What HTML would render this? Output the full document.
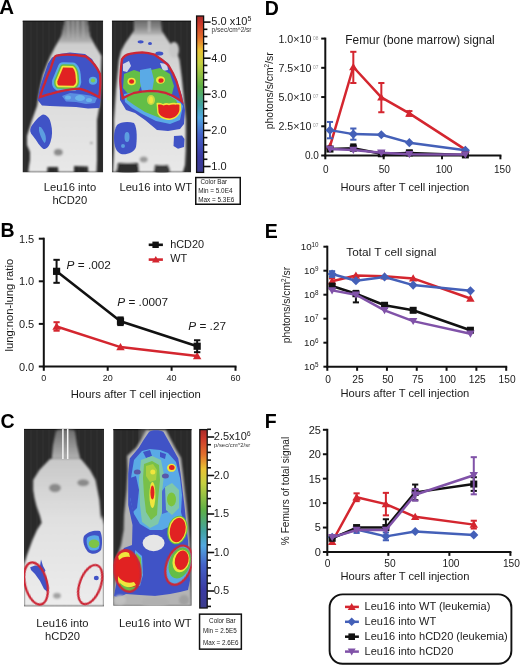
<!DOCTYPE html>
<html><head><meta charset="utf-8"><style>html,body{margin:0;padding:0;background:#fff;}svg{display:block;will-change:transform;}</style></head><body><svg width="520" height="666" viewBox="0 0 520 666" font-family='"Liberation Sans", sans-serif'>
<rect width="520" height="666" fill="#fff"/>
<defs>
<filter id="bl1" x="-20%" y="-20%" width="140%" height="140%"><feGaussianBlur stdDeviation="0.9"/></filter>
<filter id="bl2" x="-20%" y="-20%" width="140%" height="140%"><feGaussianBlur stdDeviation="2"/></filter>
<filter id="bl3" x="-30%" y="-30%" width="160%" height="160%"><feGaussianBlur stdDeviation="3.5"/></filter>
<filter id="sft" x="-5%" y="-5%" width="110%" height="110%"><feGaussianBlur stdDeviation="0.45"/></filter>
<linearGradient id="cbar" x1="0" y1="0" x2="0" y2="1">
<stop offset="0" stop-color="#a82a28"/>
<stop offset="0.05" stop-color="#cc3a2c"/>
<stop offset="0.14" stop-color="#e2702c"/>
<stop offset="0.22" stop-color="#eac234"/>
<stop offset="0.30" stop-color="#c6d040"/>
<stop offset="0.45" stop-color="#5eb046"/>
<stop offset="0.57" stop-color="#42a2a2"/>
<stop offset="0.65" stop-color="#52a8e0"/>
<stop offset="0.76" stop-color="#4462c8"/>
<stop offset="0.90" stop-color="#3a3aa2"/>
<stop offset="1" stop-color="#3c3c8c"/>
</linearGradient>
<linearGradient id="bgv" x1="0" y1="0" x2="1" y2="0">
<stop offset="0" stop-color="#2a2a2a"/><stop offset="0.5" stop-color="#2e2e2e"/><stop offset="1" stop-color="#282828"/>
</linearGradient>
<radialGradient id="body" cx="0.55" cy="0.6" r="0.6">
<stop offset="0" stop-color="#e4e4e4"/><stop offset="0.7" stop-color="#d6d6d6"/><stop offset="1" stop-color="#b8b8b8"/>
</radialGradient>
<clipPath id="cA1"><rect x="22.5" y="20.5" width="80.7" height="152"/></clipPath>
<clipPath id="cA2"><rect x="111.8" y="20.5" width="79.4" height="152"/></clipPath>
<clipPath id="cC1"><rect x="24" y="428.8" width="80" height="177.8"/></clipPath>
<clipPath id="cC2"><rect x="113.2" y="429" width="78.5" height="176.8"/></clipPath>
</defs>
<text x="-0.80" y="14.30" font-size="20.5" text-anchor="start" font-weight="bold" font-style="normal" fill="#000" >A</text>
<text x="0.50" y="237.40" font-size="19.5" text-anchor="start" font-weight="bold" font-style="normal" fill="#000" >B</text>
<text x="0.50" y="428.20" font-size="19.5" text-anchor="start" font-weight="bold" font-style="normal" fill="#000" >C</text>
<text x="264.80" y="14.80" font-size="19.5" text-anchor="start" font-weight="bold" font-style="normal" fill="#000" >D</text>
<text x="264.80" y="237.60" font-size="19.5" text-anchor="start" font-weight="bold" font-style="normal" fill="#000" >E</text>
<text x="264.80" y="428.30" font-size="19.5" text-anchor="start" font-weight="bold" font-style="normal" fill="#000" >F</text>
<defs>
<linearGradient id="headA1" x1="0" y1="0" x2="0" y2="1"><stop offset="0" stop-color="#686868"/><stop offset="0.5" stop-color="#888888"/><stop offset="1" stop-color="#b8b8b8"/></linearGradient>
<linearGradient id="bodyA" x1="0" y1="0" x2="0" y2="1"><stop offset="0" stop-color="#c4c4c4"/><stop offset="0.35" stop-color="#d8d8d8"/><stop offset="1" stop-color="#e8e8e8"/></linearGradient>
<linearGradient id="headC1" x1="0" y1="0" x2="0" y2="1"><stop offset="0" stop-color="#6c6c6c"/><stop offset="1" stop-color="#b2b2b2"/></linearGradient>
<linearGradient id="bodyC" x1="0" y1="0" x2="0" y2="1"><stop offset="0" stop-color="#c8c8c8"/><stop offset="0.4" stop-color="#e0e0e0"/><stop offset="1" stop-color="#ececec"/></linearGradient>
<pattern id="stripes" width="6" height="10" patternUnits="userSpaceOnUse"><rect width="6" height="10" fill="#2a2a2a"/><rect width="2" height="10" fill="#2e2e2e"/></pattern>
</defs>
<!-- ===== A1 ===== -->
<g clip-path="url(#cA1)">
<rect x="22.5" y="20.5" width="80.7" height="152" fill="url(#stripes)"/>
<rect x="22.5" y="20.5" width="80.7" height="1.3" fill="#141414"/>
<g filter="url(#bl1)">
<path d="M65,20 L87.5,20 L89.8,36 L96,47 L101.5,56 L101,70 L100.5,90 L99.5,106 L97,120 L97,150 L97,160 L96.5,172 L88.2,172 L88,166.5 L74,166 L74,172 L58.3,172 L58,167 L47.5,167 L47.2,172 L28.3,172 L29,166 L30,160 L30,152 L27,145 L27,136 L32,120 L37,106 L38,100 L40,88 L43,75 L47,64 L50.4,56 L55,47 L61.4,36 Z" fill="url(#bodyA)"/>
<path d="M65,20 L87.5,20 L89.8,36 L93,43 L58,43 L61.4,36 Z" fill="url(#headA1)"/>
<path d="M68,20 L68.5,38 M73,20 L73,40 M77.5,20 L77.5,40 M83,20 L83.5,38" stroke="#b4b4b4" stroke-width="1.1"/>
<ellipse cx="58.3" cy="152.3" rx="4.5" ry="3.5" fill="#8c8c8c"/>
<circle cx="91.4" cy="142.9" r="0.9" fill="#444"/>
</g>
<g filter="url(#sft)">
<path d="M52,57.5 L59,54 L70,52.5 L85,54 L92,59 L98.5,70 L100.8,84 L100.5,100 L99.5,108 L88,108.5 L76,107 L62,106.5 L50,106 L42,105.5 L37.6,100 L40,87 L44,75 L48,63.5 Z" fill="#4152c6"/>
<path d="M62,96 L70,93 L80,94 L90,95.5 L97,98 L95,103 L86,104 L76,102 L66,101.5 Z" fill="#5a8ee2"/>
<ellipse cx="80" cy="98" rx="5" ry="3" fill="#6ab4ea"/>
<ellipse cx="68" cy="97.5" rx="3" ry="2" fill="#6ab4ea"/>
<ellipse cx="89" cy="100" rx="3" ry="2" fill="#6ab4ea"/>
<path d="M63.1,67.4 L72.5,67.8 Q75,70 75.5,75 L76,82 Q75.5,85 73.5,85.8 L58.5,85.5 Q57,84.5 57.3,81.4 Z" fill="#5aaae6" stroke="#5aaae6" stroke-width="10.5" stroke-linejoin="round"/>
<path d="M63.1,67.4 L72.5,67.8 Q75,70 75.5,75 L76,82 Q75.5,85 73.5,85.8 L58.5,85.5 Q57,84.5 57.3,81.4 Z" fill="#64be46" stroke="#64be46" stroke-width="6.4" stroke-linejoin="round"/>
<path d="M63.1,67.4 L72.5,67.8 Q75,70 75.5,75 L76,82 Q75.5,85 73.5,85.8 L58.5,85.5 Q57,84.5 57.3,81.4 Z" fill="#f0e63c" stroke="#f0e63c" stroke-width="3.4" stroke-linejoin="round"/>
<path d="M63.1,67.4 L72.5,67.8 Q75,70 75.5,75 L76,82 Q75.5,85 73.5,85.8 L58.5,85.5 Q57,84.5 57.3,81.4 Z" fill="#e12323"/>
<ellipse cx="93" cy="80.8" rx="4.2" ry="4" fill="#5aaae6"/>
<ellipse cx="93" cy="80.5" rx="2.2" ry="2" fill="#7ec850"/>
<path d="M43,114.5 C47,115 50,118 51,124 C52.5,130 52.5,136 50.5,142 C49,147 46,149.5 43.5,149 C40,147 37,141 33,136 C30,133 29.5,130 31,127 C34,122 39,116 43,114.5 Z" fill="#4152c6"/>
<path d="M39,127 C41,126 43,130 45,134 C46.5,138 46,142 44.5,143 C42.5,141 40,135 39,131 Z" fill="#5c9ee0"/>
</g>
<path d="M56.5,55.6 C64,54.2 76,54.6 86,56.5 C92,61 97,67 100,74 C101,82 100,90 99.3,97.3 C92,93 85,89.5 78.8,88.6 C68,89.3 58,91.5 51.5,93.6 C46,95 43,96.2 40,97.1 C41.5,92 43,87 44.9,83 C47,77 48.5,73 49.9,70.7 C51.5,66 53,61 54.2,58 C54.8,56.5 55.5,55.8 56.5,55.6 Z" fill="none" stroke="#cc2636" stroke-width="2.3" filter="url(#sft)"/>
</g>
<!-- ===== A2 ===== -->
<g clip-path="url(#cA2)">
<rect x="111.8" y="20.5" width="79.4" height="152" fill="url(#stripes)"/>
<rect x="111.8" y="20.5" width="79.4" height="1.3" fill="#141414"/>
<g filter="url(#bl1)">
<path d="M134.4,20 L160.8,20 L161.5,31 L164.5,35 L170.2,43.4 L176.4,51 L179.5,60 L182,80 L184,100 L185.8,120 L185.8,150 L185,165 L183,172 L170,172 L168,165 L155,165 L154,172 L139,172 L138,163 L118,163 L116,172 L113,172 L114,150 L114,120 L116,90 L118.8,60 L121,51 L125,43.4 L131,35 L134,31 Z" fill="url(#bodyA)"/>
<path d="M134.4,20 L160.8,20 L161.5,31 L164.5,35 L131,35 L134,31 Z" fill="url(#headA1)"/>
<path d="M149.2,20 L149.2,32" stroke="#d0d0d0" stroke-width="1.4"/>
<ellipse cx="174" cy="50" rx="5" ry="8" fill="#c8c8c8"/>
<ellipse cx="143.7" cy="159.5" rx="4" ry="3" fill="#9a9a9a"/>
<ellipse cx="128" cy="168.5" rx="11" ry="5.5" fill="#2e2e2e"/>
<ellipse cx="162" cy="169.5" rx="8" ry="4.5" fill="#3a3a3a"/>
</g>
<g filter="url(#sft)">
<ellipse cx="140.6" cy="41.8" rx="3" ry="1.6" fill="#4152c6"/>
<ellipse cx="150" cy="43.4" rx="2" ry="1.5" fill="#4152c6"/>
<ellipse cx="159.3" cy="53.5" rx="4" ry="2" fill="#4152c6"/>
<path d="M121,60 L128,54 L142,52 L155,54 L168,63 L176,78 L182,96 L185,110 L184,124 L180,129 L168,131 L157,130 L145,120 L135,113 L126,110 L120,100 L119.5,80 Z" fill="#4152c6"/>
<path d="M123,64 L129,61 L131,66 L127,72 L123,71 Z" fill="#d0d6e8"/>
<path d="M160,63 L167,64 L168,70 L163,71 Z" fill="#d0d6e8"/>
<path d="M124,74 L134,70 L140,72 L142,84 L138,92 L128,94 L123,88 Z" fill="#64be46"/>
<path d="M151,70 L160,68 L170,74 L174,86 L172,94 L160,94 L152,90 L150,80 Z" fill="#64be46"/>
<path d="M140,70 L151,68 L154,80 L152,92 L142,92 L140,82 Z" fill="#5aaae6"/>
<path d="M124,94 L135,92 L150,90.5 L165,92.5 L178,99 L183,106 L180,120 L170,124 L156,121 L142,114 L132,108 L125,102 Z" fill="#5aaae6"/>
<path d="M126,95 L136,93 L150,91.5 L165,93.5 L176,100 L179,107 L176,117 L160,118 L145,112 L134,105 L127,100 Z" fill="#64be46"/>
<ellipse cx="151" cy="100" rx="4" ry="5" fill="#c8d846"/>
<ellipse cx="151" cy="100" rx="2" ry="3.5" fill="#f0e63c"/>
<ellipse cx="131.6" cy="81.5" rx="4.2" ry="3.8" fill="#f0e63c"/>
<ellipse cx="131.6" cy="81.5" rx="2.5" ry="2.3" fill="#e12323"/>
<ellipse cx="160.5" cy="80" rx="4.5" ry="3.8" fill="#f0e63c"/>
<ellipse cx="161" cy="80.5" rx="2.6" ry="2.3" fill="#e12323"/>
<path d="M156.5,103 C159,102.5 161,103 163,104 C165,103 167,102.5 169,103.5 C171,102.8 174,102.5 176,103.2 C178,102.8 180,102.8 181,103.5 L181.2,110 C180,115 176,119 170,120 C164,120 159,117.5 157.3,113 Z" fill="#f0e63c"/>
<path d="M158,104.8 C160,104.2 162,104.6 163.5,105.6 C165.5,104.6 167.5,104.3 169,105.2 C171,104.4 173.5,104.2 175.5,104.8 C177,104.4 178.5,104.5 179.4,105 L179.4,110 C178.5,114.5 175,117.8 170,118.4 C164.5,118.3 160,116 158.6,112.5 Z" fill="#e12323"/>
<path d="M117,125 C120,122 128,121 134,123 C137.5,128 137,140 136,147 C134,153 126,155 121,154 C116,152 114,146 114,138 C114,132 115,128 117,125 Z" fill="#4152c6"/>
<ellipse cx="127" cy="137" rx="2.5" ry="5" fill="#5c9ee0"/>
<ellipse cx="123" cy="146" rx="2" ry="2" fill="#5c9ee0"/>
<path d="M174,136 L182,135.4 L184.5,139 L184,147 L178,148.8 L173.5,146 Z" fill="#4152c6"/>
</g>
<path d="M121.9,59.3 C124,56 127,54.5 129.7,53.9 C134,52.8 138,52.3 142.2,52.3 C147,52.6 151,53.5 154.6,54.7 C160,58 165,62 168.6,65.6 C172,71 174.5,76 176.4,81.2 C178.5,88 180.5,95 181.9,101.4 C176,97 171,94.5 165.5,92.8 C160,91.3 155,90.8 150,90.8 C144,91 139,91.7 134.4,92.8 C130,94.5 126,96.5 122.7,98.3 C121,92 120.5,87 120.3,81.2 C120.5,73 121,66 121.9,59.3 Z" fill="none" stroke="#cc2636" stroke-width="2.3" filter="url(#sft)"/>
</g>
<!-- ===== C1 ===== -->
<g clip-path="url(#cC1)">
<rect x="24" y="428.8" width="80" height="177.8" fill="url(#stripes)"/>
<rect x="24" y="428.8" width="80" height="1.2" fill="#141414"/>
<g filter="url(#bl1)">
<path d="M50,459 L81,459 L90,470 L95.5,480 L99.4,500 L101,520 L102,515 L104,525 L104,606 L24,606 L24,565 L27,555 L32.5,540 L37,530 L41.7,522.7 L40,516 L36.5,506 L34.5,498 L33.2,490 L33.2,480 L39.4,470 Z" fill="url(#bodyC)"/>
<path d="M56,431 C58,428.5 72,428.5 75,431 L77,445 L80.2,458.8 L51.7,458.8 L53,445 Z" fill="url(#headC1)"/>
<ellipse cx="55" cy="488" rx="6" ry="4.2" fill="#8a8a8a"/>
<ellipse cx="83.2" cy="482.8" rx="6" ry="3.5" fill="#8a8a8a"/>
<ellipse cx="57" cy="595.8" rx="4" ry="3" fill="#a2a2a2"/>
</g>
<line x1="62.9" y1="428" x2="62.9" y2="459" stroke="#f6f6f6" stroke-width="1.5"/>
<line x1="67.7" y1="428" x2="67.7" y2="459" stroke="#f6f6f6" stroke-width="1.5"/>
<g filter="url(#sft)">
<path d="M84,536 C88,531 95,530 100,531 C102.5,535 102.5,545 101,550 C98,554 92,555 88,552 C84.5,548 82,541 84,536 Z" fill="#4152c6"/>
<path d="M87,538 C90,535 95,534.5 98.5,536 C100,540 100,546 98.5,549 C95,551 91,551 89,549 C87,546 86,541 87,538 Z" fill="#5aaae6"/>
<ellipse cx="94" cy="543.8" rx="5.3" ry="4.2" fill="#7ec446"/>
<path d="M30.2,567.3 L35,565.5 L40,566 L41,559.6 L43,566 L45.5,570.4 L44,573 L47,580 L48.6,588 L47.5,592 L44,589 L40,581 L35,574 L31,570 Z" fill="#4152c6"/>
<ellipse cx="96.3" cy="578" rx="2.5" ry="2.2" fill="#4152c6"/>
</g>
<ellipse cx="36" cy="583.5" rx="11" ry="21.5" transform="rotate(-14 36 583.5)" fill="none" stroke="#cc2636" stroke-width="2.3" filter="url(#sft)"/>
<ellipse cx="90.2" cy="584.6" rx="10.5" ry="20.5" transform="rotate(20 90.2 584.6)" fill="none" stroke="#cc2636" stroke-width="2.3" filter="url(#sft)"/>
</g>
<!-- ===== C2 ===== -->
<g clip-path="url(#cC2)">
<rect x="113.2" y="429" width="78.5" height="176.8" fill="url(#stripes)"/>
<rect x="113.2" y="429" width="78.5" height="1.2" fill="#141414"/>
<rect x="140" y="429" width="7" height="30" fill="#5a5a5a" filter="url(#bl2)"/>
<g filter="url(#bl1)">
<path d="M146,430 L166,430 L171,440 L175,447.8 L181,458 L183,474 L186.5,505 L188,520 L190,545 L190.5,580 L191.5,606 L113,606 L114,590 L116,560 L121,545 L123.6,530 L124,515 L126.5,490 L127.5,470 L127,456 L136,447.8 L141,440 Z" fill="#b4b4b4"/>
</g>
<g filter="url(#sft)">
<path d="M149,432 C151,429.5 161,429.5 163.5,432 L168,440 L172.3,447.8 L178.3,458.4 L180.6,473.6 L184.4,505 L186,520 L188,540 L189,560 L190,580 L188,590 L180,592 L170,594 L155,596 L140,595 L126,594 L118,598 L114,596 L116,585 L118,560 L124,548 L132,545 L132.5,525 L128.2,505 L128.2,473.6 L129.7,458.4 L138.8,447.8 L143.5,440 Z" fill="#4152c6"/>
<path d="M134,460 L142,451 L150,449 L160,450 L168,453 L176,462 L180,478 L182,495 L181,512 L184,525 L175,524 L162,530 L150,530 L140,524 L134,514 L130,498 L131,478 Z" fill="#5aaae6"/>
<path d="M130,478 L136,476 L139,490 L137,508 L133,512 L129.5,495 Z" fill="#4152c6"/>
<path d="M143,452 L150,450 L152,456 L146,458 Z" fill="#4152c6"/>
<path d="M160,452 L166,454 L165,459 L160,457 Z" fill="#4152c6"/>
<path d="M161,492 L166,486 L170,495 L168,512 L162,514 L160,502 Z" fill="#4a6ad0"/>
<path d="M141,460 L152,456 L161,460 L164,475 L162,492 L162,512 L158,524 L150,528 L142,522 L140,505 L139,480 Z" fill="#80c8a8"/>
<path d="M144,464 L152,461 L159,465 L160,480 L158,500 L157,515 L151,520 L146,512 L144,495 L143,478 Z" fill="#78c048"/>
<path d="M146,466 L153,464 L157,470 L156,480 L150,482 L146,476 Z" fill="#a8d040"/>
<ellipse cx="152.8" cy="472" rx="2.5" ry="2.5" fill="#f0e63c"/>
<ellipse cx="152.4" cy="495" rx="3" ry="13" fill="#f0e63c"/>
<ellipse cx="152.4" cy="492.5" rx="2" ry="7" fill="#e12323"/>
<path d="M165,487 L172,483 L179,490 L179,508 L172,515 L166,510 Z" fill="#80c8a8"/>
<ellipse cx="171.5" cy="499.4" rx="4.5" ry="7" fill="#7cc43c"/>
<ellipse cx="171.5" cy="467.8" rx="4.5" ry="4" fill="#f0e63c"/>
<ellipse cx="171.8" cy="467.6" rx="2.8" ry="2.5" fill="#e12323"/>
<ellipse cx="137.3" cy="472" rx="3.5" ry="2.5" fill="#5a58a8"/>
<ellipse cx="165.4" cy="475.9" rx="3.5" ry="2.5" fill="#5a58a8"/>
<ellipse cx="177.5" cy="530" rx="10" ry="14.5" transform="rotate(12 177.5 530)" fill="#64be46"/>
<ellipse cx="177.5" cy="530" rx="9" ry="13.5" transform="rotate(12 177.5 530)" fill="#f0e63c"/>
<ellipse cx="177.7" cy="530" rx="7.8" ry="12.3" transform="rotate(12 177.7 530)" fill="#e12323"/>
<ellipse cx="153.6" cy="543" rx="11" ry="8.3" fill="#e6e6e6"/>
<path d="M135,550 L142,556 L143,575 L140,586 L134,585 Z" fill="#5aaae6"/>
<path d="M136,553 L141,558 L141.5,574 L138,582 Z" fill="#7cc43c"/>
<ellipse cx="127.4" cy="570.9" rx="13" ry="20.9" transform="rotate(-8 127.4 570.9)" fill="#e12323"/>
<path d="M118,556 C120,552 126,551 129,553 L130,557 C126,556 122,557 119,560 Z" fill="#f0e63c"/>
<path d="M118,576 C121,581 127,584 134,582 L136,585 C130,589 122,588 118,583 Z" fill="#f0e63c"/>
<path d="M120,583 C124,587 130,589 136,586 L135,590 C129,592 123,591 120,588 Z" fill="#64be46"/>
<ellipse cx="178.8" cy="565.2" rx="12.3" ry="20.3" transform="rotate(20 178.8 565.2)" fill="#5aaae6"/>
<ellipse cx="179.8" cy="563" rx="10.5" ry="16" transform="rotate(20 179.8 563)" fill="#64be46"/>
<ellipse cx="181" cy="561" rx="8.3" ry="11.5" transform="rotate(15 181 561)" fill="#f0e63c"/>
<ellipse cx="181.7" cy="560.2" rx="6.8" ry="9.8" transform="rotate(12 181.7 560.2)" fill="#e12323"/>
</g>
<g filter="url(#bl1)">
<ellipse cx="120" cy="600" rx="6" ry="5" fill="#c0c0c0"/>
<ellipse cx="155" cy="602" rx="14" ry="5" fill="#b0b0b0"/>
<ellipse cx="184" cy="600" rx="5" ry="5" fill="#a0a0a0"/>
</g>
<ellipse cx="127.4" cy="570.9" rx="13" ry="20.9" transform="rotate(-8 127.4 570.9)" fill="none" stroke="#cc2636" stroke-width="2.3" filter="url(#sft)"/>
<ellipse cx="178.8" cy="565.2" rx="12.3" ry="20.3" transform="rotate(20 178.8 565.2)" fill="none" stroke="#cc2636" stroke-width="2.3" filter="url(#sft)"/>
</g>

<rect x="196.6" y="16" width="7.0" height="156.4" fill="url(#cbar)" stroke="#111" stroke-width="1.3"/>
<line x1="203.60" y1="22.10" x2="210.60" y2="22.10" stroke="#111" stroke-width="1.6" />
<text x="211.30" y="25.40" font-size="11" text-anchor="start" font-weight="normal" font-style="normal" fill="#1a1a1a" >5.0 x10<tspan dy="-4" font-size="7">5</tspan></text>
<line x1="203.60" y1="58.20" x2="210.60" y2="58.20" stroke="#111" stroke-width="1.6" />
<text x="211.30" y="61.50" font-size="11" text-anchor="start" font-weight="normal" font-style="normal" fill="#1a1a1a" >4.0</text>
<line x1="203.60" y1="94.30" x2="210.60" y2="94.30" stroke="#111" stroke-width="1.6" />
<text x="211.30" y="97.60" font-size="11" text-anchor="start" font-weight="normal" font-style="normal" fill="#1a1a1a" >3.0</text>
<line x1="203.60" y1="130.40" x2="210.60" y2="130.40" stroke="#111" stroke-width="1.6" />
<text x="211.30" y="133.70" font-size="11" text-anchor="start" font-weight="normal" font-style="normal" fill="#1a1a1a" >2.0</text>
<line x1="203.60" y1="166.50" x2="210.60" y2="166.50" stroke="#111" stroke-width="1.6" />
<text x="211.30" y="169.80" font-size="11" text-anchor="start" font-weight="normal" font-style="normal" fill="#1a1a1a" >1.0</text>
<line x1="203.60" y1="29.32" x2="207.40" y2="29.32" stroke="#111" stroke-width="1.6" />
<line x1="203.60" y1="36.54" x2="207.40" y2="36.54" stroke="#111" stroke-width="1.6" />
<line x1="203.60" y1="43.76" x2="207.40" y2="43.76" stroke="#111" stroke-width="1.6" />
<line x1="203.60" y1="50.98" x2="207.40" y2="50.98" stroke="#111" stroke-width="1.6" />
<line x1="203.60" y1="65.42" x2="207.40" y2="65.42" stroke="#111" stroke-width="1.6" />
<line x1="203.60" y1="72.64" x2="207.40" y2="72.64" stroke="#111" stroke-width="1.6" />
<line x1="203.60" y1="79.86" x2="207.40" y2="79.86" stroke="#111" stroke-width="1.6" />
<line x1="203.60" y1="87.08" x2="207.40" y2="87.08" stroke="#111" stroke-width="1.6" />
<line x1="203.60" y1="101.52" x2="207.40" y2="101.52" stroke="#111" stroke-width="1.6" />
<line x1="203.60" y1="108.74" x2="207.40" y2="108.74" stroke="#111" stroke-width="1.6" />
<line x1="203.60" y1="115.96" x2="207.40" y2="115.96" stroke="#111" stroke-width="1.6" />
<line x1="203.60" y1="123.18" x2="207.40" y2="123.18" stroke="#111" stroke-width="1.6" />
<line x1="203.60" y1="137.62" x2="207.40" y2="137.62" stroke="#111" stroke-width="1.6" />
<line x1="203.60" y1="144.84" x2="207.40" y2="144.84" stroke="#111" stroke-width="1.6" />
<line x1="203.60" y1="152.06" x2="207.40" y2="152.06" stroke="#111" stroke-width="1.6" />
<line x1="203.60" y1="159.28" x2="207.40" y2="159.28" stroke="#111" stroke-width="1.6" />
<text x="211.60" y="32.20" font-size="6.5" text-anchor="start" font-weight="normal" font-style="normal" fill="#333" >p/sec/cm^2/sr</text>
<rect x="195.75" y="177.55" width="44.5" height="26.7" fill="#fff" stroke="#111" stroke-width="1.5"/>
<text x="200.50" y="184.20" font-size="6.3" text-anchor="start" font-weight="normal" font-style="normal" fill="#222" >Color Bar</text>
<text x="198.20" y="192.60" font-size="6.4" text-anchor="start" font-weight="normal" font-style="normal" fill="#222" >Min = 5.0E4</text>
<text x="198.20" y="201.50" font-size="6.4" text-anchor="start" font-weight="normal" font-style="normal" fill="#222" >Max = 5.3E6</text>
<text x="70.00" y="190.80" font-size="11.2" text-anchor="middle" font-weight="normal" font-style="normal" fill="#1a1a1a" >Leu16 into</text>
<text x="69.80" y="203.60" font-size="11.2" text-anchor="middle" font-weight="normal" font-style="normal" fill="#1a1a1a" >hCD20</text>
<text x="155.80" y="190.80" font-size="11.2" text-anchor="middle" font-weight="normal" font-style="normal" fill="#1a1a1a" >Leu16 into WT</text>
<rect x="199.8" y="429.6" width="7.4" height="178.39999999999998" fill="url(#cbar)" stroke="#111" stroke-width="1.3"/>
<line x1="207.20" y1="437.00" x2="214.20" y2="437.00" stroke="#111" stroke-width="1.6" />
<text x="213.80" y="440.30" font-size="11" text-anchor="start" font-weight="normal" font-style="normal" fill="#1a1a1a" >2.5x10<tspan dy="-4" font-size="7">6</tspan></text>
<line x1="207.20" y1="475.50" x2="214.20" y2="475.50" stroke="#111" stroke-width="1.6" />
<text x="213.80" y="478.80" font-size="11" text-anchor="start" font-weight="normal" font-style="normal" fill="#1a1a1a" >2.0</text>
<line x1="207.20" y1="514.00" x2="214.20" y2="514.00" stroke="#111" stroke-width="1.6" />
<text x="213.80" y="517.30" font-size="11" text-anchor="start" font-weight="normal" font-style="normal" fill="#1a1a1a" >1.5</text>
<line x1="207.20" y1="552.50" x2="214.20" y2="552.50" stroke="#111" stroke-width="1.6" />
<text x="213.80" y="555.80" font-size="11" text-anchor="start" font-weight="normal" font-style="normal" fill="#1a1a1a" >1.0</text>
<line x1="207.20" y1="591.00" x2="214.20" y2="591.00" stroke="#111" stroke-width="1.6" />
<text x="213.80" y="594.30" font-size="11" text-anchor="start" font-weight="normal" font-style="normal" fill="#1a1a1a" >0.5</text>
<line x1="207.20" y1="429.30" x2="211.00" y2="429.30" stroke="#111" stroke-width="1.6" />
<line x1="207.20" y1="444.70" x2="211.00" y2="444.70" stroke="#111" stroke-width="1.6" />
<line x1="207.20" y1="452.40" x2="211.00" y2="452.40" stroke="#111" stroke-width="1.6" />
<line x1="207.20" y1="460.10" x2="211.00" y2="460.10" stroke="#111" stroke-width="1.6" />
<line x1="207.20" y1="467.80" x2="211.00" y2="467.80" stroke="#111" stroke-width="1.6" />
<line x1="207.20" y1="483.20" x2="211.00" y2="483.20" stroke="#111" stroke-width="1.6" />
<line x1="207.20" y1="490.90" x2="211.00" y2="490.90" stroke="#111" stroke-width="1.6" />
<line x1="207.20" y1="498.60" x2="211.00" y2="498.60" stroke="#111" stroke-width="1.6" />
<line x1="207.20" y1="506.30" x2="211.00" y2="506.30" stroke="#111" stroke-width="1.6" />
<line x1="207.20" y1="521.70" x2="211.00" y2="521.70" stroke="#111" stroke-width="1.6" />
<line x1="207.20" y1="529.40" x2="211.00" y2="529.40" stroke="#111" stroke-width="1.6" />
<line x1="207.20" y1="537.10" x2="211.00" y2="537.10" stroke="#111" stroke-width="1.6" />
<line x1="207.20" y1="544.80" x2="211.00" y2="544.80" stroke="#111" stroke-width="1.6" />
<line x1="207.20" y1="560.20" x2="211.00" y2="560.20" stroke="#111" stroke-width="1.6" />
<line x1="207.20" y1="567.90" x2="211.00" y2="567.90" stroke="#111" stroke-width="1.6" />
<line x1="207.20" y1="575.60" x2="211.00" y2="575.60" stroke="#111" stroke-width="1.6" />
<line x1="207.20" y1="583.30" x2="211.00" y2="583.30" stroke="#111" stroke-width="1.6" />
<line x1="207.20" y1="598.70" x2="211.00" y2="598.70" stroke="#111" stroke-width="1.6" />
<line x1="207.20" y1="606.40" x2="211.00" y2="606.40" stroke="#111" stroke-width="1.6" />
<text x="214.00" y="446.80" font-size="5.9" text-anchor="start" font-weight="normal" font-style="normal" fill="#333" >p/sec/cm^2/sr</text>
<rect x="199.55" y="614.15" width="41.8" height="35" fill="#fff" stroke="#111" stroke-width="1.5"/>
<text x="209.10" y="622.50" font-size="6.3" text-anchor="start" font-weight="normal" font-style="normal" fill="#222" >Color Bar</text>
<text x="202.90" y="633.10" font-size="6.3" text-anchor="start" font-weight="normal" font-style="normal" fill="#222" >Min = 2.5E5</text>
<text x="202.90" y="644.60" font-size="6.3" text-anchor="start" font-weight="normal" font-style="normal" fill="#222" >Max = 2.6E6</text>
<text x="62.40" y="626.80" font-size="11.2" text-anchor="middle" font-weight="normal" font-style="normal" fill="#1a1a1a" >Leu16 into</text>
<text x="62.50" y="639.60" font-size="11.2" text-anchor="middle" font-weight="normal" font-style="normal" fill="#1a1a1a" >hCD20</text>
<text x="155.30" y="626.80" font-size="11.2" text-anchor="middle" font-weight="normal" font-style="normal" fill="#1a1a1a" >Leu16 into WT</text>
<line x1="43.80" y1="237.70" x2="43.80" y2="367.50" stroke="#111" stroke-width="2" />
<line x1="42.80" y1="366.50" x2="236.50" y2="366.50" stroke="#111" stroke-width="2" />
<line x1="38.80" y1="366.50" x2="43.80" y2="366.50" stroke="#111" stroke-width="2" />
<text x="34.20" y="370.50" font-size="11" text-anchor="end" font-weight="normal" font-style="normal" fill="#1a1a1a" >0.0</text>
<line x1="38.80" y1="323.90" x2="43.80" y2="323.90" stroke="#111" stroke-width="2" />
<text x="34.20" y="327.90" font-size="11" text-anchor="end" font-weight="normal" font-style="normal" fill="#1a1a1a" >0.5</text>
<line x1="38.80" y1="281.30" x2="43.80" y2="281.30" stroke="#111" stroke-width="2" />
<text x="34.20" y="285.30" font-size="11" text-anchor="end" font-weight="normal" font-style="normal" fill="#1a1a1a" >1.0</text>
<line x1="38.80" y1="238.70" x2="43.80" y2="238.70" stroke="#111" stroke-width="2" />
<text x="34.20" y="242.70" font-size="11" text-anchor="end" font-weight="normal" font-style="normal" fill="#1a1a1a" >1.5</text>
<line x1="43.80" y1="366.50" x2="43.80" y2="370.80" stroke="#111" stroke-width="2" />
<text x="43.80" y="381.20" font-size="9" text-anchor="middle" font-weight="normal" font-style="normal" fill="#1a1a1a" >0</text>
<line x1="107.70" y1="366.50" x2="107.70" y2="370.80" stroke="#111" stroke-width="2" />
<text x="107.70" y="381.20" font-size="9" text-anchor="middle" font-weight="normal" font-style="normal" fill="#1a1a1a" >20</text>
<line x1="171.60" y1="366.50" x2="171.60" y2="370.80" stroke="#111" stroke-width="2" />
<text x="171.60" y="381.20" font-size="9" text-anchor="middle" font-weight="normal" font-style="normal" fill="#1a1a1a" >40</text>
<line x1="235.50" y1="366.50" x2="235.50" y2="370.80" stroke="#111" stroke-width="2" />
<text x="235.50" y="381.20" font-size="9" text-anchor="middle" font-weight="normal" font-style="normal" fill="#1a1a1a" >60</text>
<text x="135.80" y="397.50" font-size="11.3" text-anchor="middle" font-weight="normal" font-style="normal" fill="#1a1a1a" >Hours after T cell injection</text>
<text x="12.60" y="305.20" font-size="11.2" text-anchor="middle" font-weight="normal" font-style="normal" fill="#1a1a1a" transform="rotate(-90 12.6 305.2)">lung:non-lung ratio</text>
<polyline points="56.58,326.46 120.48,347.07 197.16,356.11" fill="none" stroke="#d4262f" stroke-width="2.5" stroke-linejoin="round"/>
<line x1="56.58" y1="322.20" x2="56.58" y2="330.72" stroke="#d4262f" stroke-width="2.0" />
<line x1="53.48" y1="322.20" x2="59.68" y2="322.20" stroke="#d4262f" stroke-width="2.0" />
<line x1="53.48" y1="330.72" x2="59.68" y2="330.72" stroke="#d4262f" stroke-width="2.0" />
<polygon points="56.58,322.43 60.81,329.68 52.35,329.68" fill="#d4262f"/>
<polygon points="120.48,343.05 124.71,350.29 116.25,350.29" fill="#d4262f"/>
<polygon points="197.16,352.08 201.39,359.33 192.93,359.33" fill="#d4262f"/>
<polyline points="56.58,271.33 120.48,321.26 197.16,346.22" fill="none" stroke="#111" stroke-width="2.6" stroke-linejoin="round"/>
<line x1="56.58" y1="259.83" x2="56.58" y2="282.83" stroke="#111" stroke-width="2.0" />
<line x1="53.38" y1="259.83" x2="59.78" y2="259.83" stroke="#111" stroke-width="2.0" />
<line x1="53.38" y1="282.83" x2="59.78" y2="282.83" stroke="#111" stroke-width="2.0" />
<rect x="52.98" y="267.73" width="7.20" height="7.20" fill="#111"/>
<line x1="120.48" y1="317.42" x2="120.48" y2="325.09" stroke="#111" stroke-width="2.0" />
<line x1="117.28" y1="317.42" x2="123.68" y2="317.42" stroke="#111" stroke-width="2.0" />
<line x1="117.28" y1="325.09" x2="123.68" y2="325.09" stroke="#111" stroke-width="2.0" />
<rect x="116.88" y="317.66" width="7.20" height="7.20" fill="#111"/>
<line x1="197.16" y1="340.26" x2="197.16" y2="352.19" stroke="#111" stroke-width="2.0" />
<line x1="193.96" y1="340.26" x2="200.36" y2="340.26" stroke="#111" stroke-width="2.0" />
<line x1="193.96" y1="352.19" x2="200.36" y2="352.19" stroke="#111" stroke-width="2.0" />
<rect x="193.56" y="342.62" width="7.20" height="7.20" fill="#111"/>
<text x="66.60" y="268.50" font-size="11.8" text-anchor="start" font-weight="normal" font-style="normal" fill="#1a1a1a" ><tspan font-style="italic">P</tspan> = .002</text>
<text x="117.30" y="305.90" font-size="11.8" text-anchor="start" font-weight="normal" font-style="normal" fill="#1a1a1a" ><tspan font-style="italic">P</tspan> = .0007</text>
<text x="188.30" y="330.20" font-size="11.8" text-anchor="start" font-weight="normal" font-style="normal" fill="#1a1a1a" ><tspan font-style="italic">P</tspan> = .27</text>
<line x1="148.70" y1="244.80" x2="162.90" y2="244.80" stroke="#111" stroke-width="2.6" />
<rect x="152.40" y="241.60" width="6.40" height="6.40" fill="#111"/>
<text x="170.20" y="247.90" font-size="10.9" text-anchor="start" font-weight="normal" font-style="normal" fill="#1a1a1a" >hCD20</text>
<line x1="148.70" y1="259.60" x2="162.90" y2="259.60" stroke="#d4262f" stroke-width="2.6" />
<polygon points="155.80,255.92 159.66,262.54 151.94,262.54" fill="#d4262f"/>
<text x="170.20" y="262.40" font-size="10.9" text-anchor="start" font-weight="normal" font-style="normal" fill="#1a1a1a" >WT</text>
<line x1="325.30" y1="37.60" x2="325.30" y2="156.50" stroke="#111" stroke-width="2" />
<line x1="324.30" y1="155.50" x2="501.40" y2="155.50" stroke="#111" stroke-width="2" />
<line x1="321.20" y1="155.50" x2="325.30" y2="155.50" stroke="#111" stroke-width="2" />
<text x="318.80" y="159.30" font-size="10" text-anchor="end" font-weight="normal" font-style="normal" fill="#1a1a1a" >0.0</text>
<line x1="321.20" y1="126.28" x2="325.30" y2="126.28" stroke="#111" stroke-width="2" />
<text x="278.40" y="130.38" font-size="10.7" text-anchor="start" font-weight="normal" font-style="normal" fill="#1a1a1a" >2.5×10<tspan dy="-3" font-size="4.8" fill="#999" dx="1.6">07</tspan></text>
<line x1="321.20" y1="97.05" x2="325.30" y2="97.05" stroke="#111" stroke-width="2" />
<text x="278.40" y="101.15" font-size="10.7" text-anchor="start" font-weight="normal" font-style="normal" fill="#1a1a1a" >5.0×10<tspan dy="-3" font-size="4.8" fill="#999" dx="1.6">07</tspan></text>
<line x1="321.20" y1="67.83" x2="325.30" y2="67.83" stroke="#111" stroke-width="2" />
<text x="278.40" y="71.92" font-size="10.7" text-anchor="start" font-weight="normal" font-style="normal" fill="#1a1a1a" >7.5×10<tspan dy="-3" font-size="4.8" fill="#999" dx="1.6">07</tspan></text>
<line x1="321.20" y1="38.60" x2="325.30" y2="38.60" stroke="#111" stroke-width="2" />
<text x="278.40" y="42.70" font-size="10.7" text-anchor="start" font-weight="normal" font-style="normal" fill="#1a1a1a" >1.0×10<tspan dy="-3" font-size="4.8" fill="#999" dx="1.6">08</tspan></text>
<line x1="325.30" y1="155.50" x2="325.30" y2="159.30" stroke="#111" stroke-width="2" />
<text x="325.80" y="172.90" font-size="10" text-anchor="middle" font-weight="normal" font-style="normal" fill="#1a1a1a" >0</text>
<line x1="383.67" y1="155.50" x2="383.67" y2="159.30" stroke="#111" stroke-width="2" />
<text x="384.37" y="172.90" font-size="10" text-anchor="middle" font-weight="normal" font-style="normal" fill="#1a1a1a" >50</text>
<line x1="442.03" y1="155.50" x2="442.03" y2="159.30" stroke="#111" stroke-width="2" />
<text x="444.03" y="172.90" font-size="10" text-anchor="middle" font-weight="normal" font-style="normal" fill="#1a1a1a" >100</text>
<line x1="500.40" y1="155.50" x2="500.40" y2="159.30" stroke="#111" stroke-width="2" />
<text x="502.40" y="172.90" font-size="10" text-anchor="middle" font-weight="normal" font-style="normal" fill="#1a1a1a" >150</text>
<text x="404.90" y="191.10" font-size="11.2" text-anchor="middle" font-weight="normal" font-style="normal" fill="#1a1a1a" >Hours after T cell injection</text>
<text x="272.80" y="90.70" font-size="10.4" text-anchor="middle" font-weight="normal" font-style="normal" fill="#1a1a1a" transform="rotate(-90 272.8 90.7)">photons/s/cm<tspan dy="-3.5" font-size="6.5">2</tspan><tspan dy="3.5">/sr</tspan></text>
<text x="345.30" y="43.60" font-size="11.9" text-anchor="start" font-weight="normal" font-style="normal" fill="#1a1a1a" >Femur (bone marrow) signal</text>
<polyline points="329.97,146.38 353.32,67.01 381.33,97.40 409.35,113.42 465.38,149.66" fill="none" stroke="#d4262f" stroke-width="2.5" stroke-linejoin="round"/>
<polygon points="329.97,142.36 334.20,149.60 325.74,149.60" fill="#d4262f"/>
<line x1="353.32" y1="51.81" x2="353.32" y2="83.02" stroke="#d4262f" stroke-width="2.0" />
<line x1="350.22" y1="51.81" x2="356.42" y2="51.81" stroke="#d4262f" stroke-width="2.0" />
<line x1="350.22" y1="83.02" x2="356.42" y2="83.02" stroke="#d4262f" stroke-width="2.0" />
<polygon points="353.32,62.98 357.54,70.23 349.09,70.23" fill="#d4262f"/>
<line x1="381.33" y1="83.02" x2="381.33" y2="112.25" stroke="#d4262f" stroke-width="2.0" />
<line x1="378.23" y1="83.02" x2="384.43" y2="83.02" stroke="#d4262f" stroke-width="2.0" />
<line x1="378.23" y1="112.25" x2="384.43" y2="112.25" stroke="#d4262f" stroke-width="2.0" />
<polygon points="381.33,93.38 385.56,100.62 377.11,100.62" fill="#d4262f"/>
<line x1="409.35" y1="111.08" x2="409.35" y2="115.75" stroke="#d4262f" stroke-width="2.0" />
<line x1="406.25" y1="111.08" x2="412.45" y2="111.08" stroke="#d4262f" stroke-width="2.0" />
<line x1="406.25" y1="115.75" x2="412.45" y2="115.75" stroke="#d4262f" stroke-width="2.0" />
<polygon points="409.35,109.39 413.57,116.64 405.12,116.64" fill="#d4262f"/>
<polygon points="465.38,145.63 469.61,152.88 461.15,152.88" fill="#d4262f"/>
<polyline points="329.97,130.13 353.32,134.11 381.33,134.69 409.35,142.64 465.38,150.24" fill="none" stroke="#4460b8" stroke-width="2.5" stroke-linejoin="round"/>
<line x1="329.97" y1="121.95" x2="329.97" y2="138.32" stroke="#4460b8" stroke-width="2.0" />
<line x1="326.87" y1="121.95" x2="333.07" y2="121.95" stroke="#4460b8" stroke-width="2.0" />
<line x1="326.87" y1="138.32" x2="333.07" y2="138.32" stroke="#4460b8" stroke-width="2.0" />
<polygon points="329.97,125.58 334.52,130.13 329.97,134.68 325.42,130.13" fill="#4460b8"/>
<line x1="353.32" y1="128.50" x2="353.32" y2="139.72" stroke="#4460b8" stroke-width="2.0" />
<line x1="350.22" y1="128.50" x2="356.42" y2="128.50" stroke="#4460b8" stroke-width="2.0" />
<line x1="350.22" y1="139.72" x2="356.42" y2="139.72" stroke="#4460b8" stroke-width="2.0" />
<polygon points="353.32,129.56 357.87,134.11 353.32,138.66 348.77,134.11" fill="#4460b8"/>
<polygon points="381.33,130.14 385.88,134.69 381.33,139.24 376.78,134.69" fill="#4460b8"/>
<polygon points="409.35,138.09 413.90,142.64 409.35,147.19 404.80,142.64" fill="#4460b8"/>
<polygon points="465.38,145.69 469.93,150.24 465.38,154.79 460.83,150.24" fill="#4460b8"/>
<polyline points="329.97,149.07 353.32,148.25 381.33,153.75 409.35,152.93 465.38,154.92" fill="none" stroke="#111" stroke-width="2.5" stroke-linejoin="round"/>
<rect x="326.47" y="145.57" width="7.00" height="7.00" fill="#111"/>
<line x1="353.32" y1="144.39" x2="353.32" y2="148.25" stroke="#111" stroke-width="2.0" />
<line x1="350.22" y1="144.39" x2="356.42" y2="144.39" stroke="#111" stroke-width="2.0" />
<rect x="349.82" y="144.75" width="7.00" height="7.00" fill="#111"/>
<rect x="377.83" y="150.25" width="7.00" height="7.00" fill="#111"/>
<line x1="409.35" y1="150.59" x2="409.35" y2="152.93" stroke="#111" stroke-width="2.0" />
<line x1="406.25" y1="150.59" x2="412.45" y2="150.59" stroke="#111" stroke-width="2.0" />
<rect x="405.85" y="149.43" width="7.00" height="7.00" fill="#111"/>
<rect x="461.88" y="151.42" width="7.00" height="7.00" fill="#111"/>
<polyline points="329.97,149.07 353.32,149.89 381.33,152.69 409.35,154.33 465.38,154.56" fill="none" stroke="#8052a8" stroke-width="2.5" stroke-linejoin="round"/>
<polygon points="329.97,153.10 334.20,145.85 325.74,145.85" fill="#8052a8"/>
<polygon points="353.32,153.91 357.54,146.67 349.09,146.67" fill="#8052a8"/>
<polygon points="381.33,156.72 385.56,149.47 377.11,149.47" fill="#8052a8"/>
<polygon points="409.35,158.36 413.57,151.11 405.12,151.11" fill="#8052a8"/>
<polygon points="465.38,158.59 469.61,151.34 461.15,151.34" fill="#8052a8"/>
<line x1="327.30" y1="245.70" x2="327.30" y2="367.70" stroke="#111" stroke-width="2" />
<line x1="326.30" y1="366.70" x2="507.20" y2="366.70" stroke="#111" stroke-width="2" />
<line x1="323.40" y1="366.70" x2="327.30" y2="366.70" stroke="#111" stroke-width="2" />
<text x="314.90" y="370.30" font-size="9.8" text-anchor="end" font-weight="normal" font-style="normal" fill="#1a1a1a" >10</text>
<text x="314.90" y="367.10" font-size="6.3" text-anchor="start" font-weight="normal" font-style="normal" fill="#1a1a1a" >5</text>
<line x1="323.40" y1="342.70" x2="327.30" y2="342.70" stroke="#111" stroke-width="2" />
<text x="314.90" y="346.30" font-size="9.8" text-anchor="end" font-weight="normal" font-style="normal" fill="#1a1a1a" >10</text>
<text x="314.90" y="343.10" font-size="6.3" text-anchor="start" font-weight="normal" font-style="normal" fill="#1a1a1a" >6</text>
<line x1="323.40" y1="318.70" x2="327.30" y2="318.70" stroke="#111" stroke-width="2" />
<text x="314.90" y="322.30" font-size="9.8" text-anchor="end" font-weight="normal" font-style="normal" fill="#1a1a1a" >10</text>
<text x="314.90" y="319.10" font-size="6.3" text-anchor="start" font-weight="normal" font-style="normal" fill="#1a1a1a" >7</text>
<line x1="323.40" y1="294.70" x2="327.30" y2="294.70" stroke="#111" stroke-width="2" />
<text x="314.90" y="298.30" font-size="9.8" text-anchor="end" font-weight="normal" font-style="normal" fill="#1a1a1a" >10</text>
<text x="314.90" y="295.10" font-size="6.3" text-anchor="start" font-weight="normal" font-style="normal" fill="#1a1a1a" >8</text>
<line x1="323.40" y1="270.70" x2="327.30" y2="270.70" stroke="#111" stroke-width="2" />
<text x="314.90" y="274.30" font-size="9.8" text-anchor="end" font-weight="normal" font-style="normal" fill="#1a1a1a" >10</text>
<text x="314.90" y="271.10" font-size="6.3" text-anchor="start" font-weight="normal" font-style="normal" fill="#1a1a1a" >9</text>
<line x1="323.40" y1="246.70" x2="327.30" y2="246.70" stroke="#111" stroke-width="2" />
<text x="311.70" y="250.30" font-size="9.8" text-anchor="end" font-weight="normal" font-style="normal" fill="#1a1a1a" >10</text>
<text x="311.60" y="247.10" font-size="6.3" text-anchor="start" font-weight="normal" font-style="normal" fill="#1a1a1a" >10</text>
<line x1="327.30" y1="366.70" x2="327.30" y2="370.80" stroke="#111" stroke-width="2" />
<text x="328.20" y="382.80" font-size="10.2" text-anchor="middle" font-weight="normal" font-style="normal" fill="#1a1a1a" >0</text>
<line x1="357.12" y1="366.70" x2="357.12" y2="370.80" stroke="#111" stroke-width="2" />
<text x="358.02" y="382.80" font-size="10.2" text-anchor="middle" font-weight="normal" font-style="normal" fill="#1a1a1a" >25</text>
<line x1="386.93" y1="366.70" x2="386.93" y2="370.80" stroke="#111" stroke-width="2" />
<text x="387.83" y="382.80" font-size="10.2" text-anchor="middle" font-weight="normal" font-style="normal" fill="#1a1a1a" >50</text>
<line x1="416.75" y1="366.70" x2="416.75" y2="370.80" stroke="#111" stroke-width="2" />
<text x="417.65" y="382.80" font-size="10.2" text-anchor="middle" font-weight="normal" font-style="normal" fill="#1a1a1a" >75</text>
<line x1="446.57" y1="366.70" x2="446.57" y2="370.80" stroke="#111" stroke-width="2" />
<text x="447.47" y="382.80" font-size="10.2" text-anchor="middle" font-weight="normal" font-style="normal" fill="#1a1a1a" >100</text>
<line x1="476.38" y1="366.70" x2="476.38" y2="370.80" stroke="#111" stroke-width="2" />
<text x="477.28" y="382.80" font-size="10.2" text-anchor="middle" font-weight="normal" font-style="normal" fill="#1a1a1a" >125</text>
<line x1="506.20" y1="366.70" x2="506.20" y2="370.80" stroke="#111" stroke-width="2" />
<text x="507.10" y="382.80" font-size="10.2" text-anchor="middle" font-weight="normal" font-style="normal" fill="#1a1a1a" >150</text>
<text x="404.90" y="396.90" font-size="11.2" text-anchor="middle" font-weight="normal" font-style="normal" fill="#1a1a1a" >Hours after T cell injection</text>
<text x="289.50" y="305.00" font-size="10.3" text-anchor="middle" font-weight="normal" font-style="normal" fill="#1a1a1a" transform="rotate(-90 289.5 305)">photons/s/cm<tspan dy="-3.5" font-size="6.5">2</tspan><tspan dy="3.5">/sr</tspan></text>
<text x="346.30" y="255.50" font-size="11.8" text-anchor="start" font-weight="normal" font-style="normal" fill="#1a1a1a" >Total T cell signal</text>
<polyline points="332.07,281.26 355.92,275.50 384.55,276.22 413.17,278.38 470.42,298.54" fill="none" stroke="#d4262f" stroke-width="2.5" stroke-linejoin="round"/>
<line x1="332.07" y1="278.38" x2="332.07" y2="284.14" stroke="#d4262f" stroke-width="2.0" />
<line x1="328.97" y1="278.38" x2="335.17" y2="278.38" stroke="#d4262f" stroke-width="2.0" />
<line x1="328.97" y1="284.14" x2="335.17" y2="284.14" stroke="#d4262f" stroke-width="2.0" />
<polygon points="332.07,277.24 336.30,284.48 327.84,284.48" fill="#d4262f"/>
<polygon points="355.92,271.48 360.15,278.72 351.70,278.72" fill="#d4262f"/>
<polygon points="384.55,272.20 388.77,279.44 380.32,279.44" fill="#d4262f"/>
<polygon points="413.17,274.36 417.40,281.60 408.95,281.60" fill="#d4262f"/>
<polygon points="470.42,294.51 474.65,301.76 466.19,301.76" fill="#d4262f"/>
<polyline points="332.07,274.06 355.92,280.78 384.55,276.94 413.17,285.10 470.42,290.86" fill="none" stroke="#4460b8" stroke-width="2.5" stroke-linejoin="round"/>
<line x1="332.07" y1="271.18" x2="332.07" y2="276.94" stroke="#4460b8" stroke-width="2.0" />
<line x1="328.97" y1="271.18" x2="335.17" y2="271.18" stroke="#4460b8" stroke-width="2.0" />
<line x1="328.97" y1="276.94" x2="335.17" y2="276.94" stroke="#4460b8" stroke-width="2.0" />
<polygon points="332.07,269.51 336.62,274.06 332.07,278.61 327.52,274.06" fill="#4460b8"/>
<polygon points="355.92,276.23 360.47,280.78 355.92,285.33 351.37,280.78" fill="#4460b8"/>
<polygon points="384.55,272.39 389.10,276.94 384.55,281.49 380.00,276.94" fill="#4460b8"/>
<polygon points="413.17,280.55 417.72,285.10 413.17,289.65 408.62,285.10" fill="#4460b8"/>
<polygon points="470.42,286.31 474.97,290.86 470.42,295.41 465.87,290.86" fill="#4460b8"/>
<polyline points="332.07,286.06 355.92,293.74 384.55,305.26 413.17,310.30 470.42,330.22" fill="none" stroke="#111" stroke-width="2.5" stroke-linejoin="round"/>
<rect x="328.57" y="282.56" width="7.00" height="7.00" fill="#111"/>
<line x1="355.92" y1="290.86" x2="355.92" y2="302.38" stroke="#111" stroke-width="2.0" />
<line x1="352.82" y1="290.86" x2="359.02" y2="290.86" stroke="#111" stroke-width="2.0" />
<line x1="352.82" y1="302.38" x2="359.02" y2="302.38" stroke="#111" stroke-width="2.0" />
<rect x="352.42" y="290.24" width="7.00" height="7.00" fill="#111"/>
<rect x="381.05" y="301.76" width="7.00" height="7.00" fill="#111"/>
<rect x="409.67" y="306.80" width="7.00" height="7.00" fill="#111"/>
<rect x="466.92" y="326.72" width="7.00" height="7.00" fill="#111"/>
<polyline points="332.07,290.38 355.92,294.70 384.55,310.30 413.17,321.10 470.42,333.82" fill="none" stroke="#8052a8" stroke-width="2.5" stroke-linejoin="round"/>
<polygon points="332.07,294.40 336.30,287.16 327.84,287.16" fill="#8052a8"/>
<polygon points="355.92,298.72 360.15,291.48 351.70,291.48" fill="#8052a8"/>
<polygon points="384.55,314.32 388.77,307.08 380.32,307.08" fill="#8052a8"/>
<polygon points="413.17,325.12 417.40,317.88 408.95,317.88" fill="#8052a8"/>
<polygon points="470.42,337.84 474.65,330.60 466.19,330.60" fill="#8052a8"/>
<line x1="327.30" y1="428.80" x2="327.30" y2="553.00" stroke="#111" stroke-width="2" />
<line x1="326.30" y1="552.00" x2="511.40" y2="552.00" stroke="#111" stroke-width="2" />
<line x1="322.90" y1="552.00" x2="327.30" y2="552.00" stroke="#111" stroke-width="2" />
<text x="320.90" y="555.90" font-size="11" text-anchor="end" font-weight="normal" font-style="normal" fill="#1a1a1a" >0</text>
<line x1="322.90" y1="527.56" x2="327.30" y2="527.56" stroke="#111" stroke-width="2" />
<text x="320.90" y="531.46" font-size="11" text-anchor="end" font-weight="normal" font-style="normal" fill="#1a1a1a" >5</text>
<line x1="322.90" y1="503.12" x2="327.30" y2="503.12" stroke="#111" stroke-width="2" />
<text x="320.90" y="507.02" font-size="11" text-anchor="end" font-weight="normal" font-style="normal" fill="#1a1a1a" >10</text>
<line x1="322.90" y1="478.68" x2="327.30" y2="478.68" stroke="#111" stroke-width="2" />
<text x="320.90" y="482.58" font-size="11" text-anchor="end" font-weight="normal" font-style="normal" fill="#1a1a1a" >15</text>
<line x1="322.90" y1="454.24" x2="327.30" y2="454.24" stroke="#111" stroke-width="2" />
<text x="320.90" y="458.14" font-size="11" text-anchor="end" font-weight="normal" font-style="normal" fill="#1a1a1a" >20</text>
<line x1="322.90" y1="429.80" x2="327.30" y2="429.80" stroke="#111" stroke-width="2" />
<text x="320.90" y="433.70" font-size="11" text-anchor="end" font-weight="normal" font-style="normal" fill="#1a1a1a" >25</text>
<line x1="327.30" y1="552.00" x2="327.30" y2="555.90" stroke="#111" stroke-width="2" />
<text x="327.60" y="567.30" font-size="10.2" text-anchor="middle" font-weight="normal" font-style="normal" fill="#1a1a1a" >0</text>
<line x1="388.33" y1="552.00" x2="388.33" y2="555.90" stroke="#111" stroke-width="2" />
<text x="389.93" y="567.30" font-size="10.2" text-anchor="middle" font-weight="normal" font-style="normal" fill="#1a1a1a" >50</text>
<line x1="449.37" y1="552.00" x2="449.37" y2="555.90" stroke="#111" stroke-width="2" />
<text x="450.97" y="567.30" font-size="10.2" text-anchor="middle" font-weight="normal" font-style="normal" fill="#1a1a1a" >100</text>
<line x1="510.40" y1="552.00" x2="510.40" y2="555.90" stroke="#111" stroke-width="2" />
<text x="511.40" y="567.30" font-size="10.2" text-anchor="middle" font-weight="normal" font-style="normal" fill="#1a1a1a" >150</text>
<text x="405.00" y="580.40" font-size="11.2" text-anchor="middle" font-weight="normal" font-style="normal" fill="#1a1a1a" >Hours after T cell injection</text>
<text x="288.60" y="491.00" font-size="10.1" text-anchor="middle" font-weight="normal" font-style="normal" fill="#1a1a1a" transform="rotate(-90 288.6 491)">% Femurs of total signal</text>
<polyline points="332.18,541.74 356.60,497.25 385.89,504.10 415.19,516.81 473.78,524.63" fill="none" stroke="#d4262f" stroke-width="2.5" stroke-linejoin="round"/>
<polygon points="332.18,537.71 336.41,544.96 327.96,544.96" fill="#d4262f"/>
<line x1="356.60" y1="493.34" x2="356.60" y2="501.16" stroke="#d4262f" stroke-width="2.0" />
<line x1="353.50" y1="493.34" x2="359.70" y2="493.34" stroke="#d4262f" stroke-width="2.0" />
<line x1="353.50" y1="501.16" x2="359.70" y2="501.16" stroke="#d4262f" stroke-width="2.0" />
<polygon points="356.60,493.23 360.82,500.47 352.37,500.47" fill="#d4262f"/>
<line x1="385.89" y1="492.86" x2="385.89" y2="515.34" stroke="#d4262f" stroke-width="2.0" />
<line x1="382.79" y1="492.86" x2="388.99" y2="492.86" stroke="#d4262f" stroke-width="2.0" />
<line x1="382.79" y1="515.34" x2="388.99" y2="515.34" stroke="#d4262f" stroke-width="2.0" />
<polygon points="385.89,500.07 390.12,507.32 381.67,507.32" fill="#d4262f"/>
<polygon points="415.19,512.78 419.41,520.03 410.96,520.03" fill="#d4262f"/>
<line x1="473.78" y1="520.72" x2="473.78" y2="528.54" stroke="#d4262f" stroke-width="2.0" />
<line x1="470.68" y1="520.72" x2="476.88" y2="520.72" stroke="#d4262f" stroke-width="2.0" />
<line x1="470.68" y1="528.54" x2="476.88" y2="528.54" stroke="#d4262f" stroke-width="2.0" />
<polygon points="473.78,520.60 478.01,527.85 469.55,527.85" fill="#d4262f"/>
<polyline points="332.18,537.34 356.60,529.52 385.89,536.36 415.19,531.47 473.78,534.89" fill="none" stroke="#4460b8" stroke-width="2.5" stroke-linejoin="round"/>
<polygon points="332.18,532.79 336.73,537.34 332.18,541.89 327.63,537.34" fill="#4460b8"/>
<line x1="356.60" y1="526.09" x2="356.60" y2="532.94" stroke="#4460b8" stroke-width="2.0" />
<line x1="353.50" y1="526.09" x2="359.70" y2="526.09" stroke="#4460b8" stroke-width="2.0" />
<line x1="353.50" y1="532.94" x2="359.70" y2="532.94" stroke="#4460b8" stroke-width="2.0" />
<polygon points="356.60,524.97 361.15,529.52 356.60,534.07 352.05,529.52" fill="#4460b8"/>
<line x1="385.89" y1="532.45" x2="385.89" y2="540.27" stroke="#4460b8" stroke-width="2.0" />
<line x1="382.79" y1="532.45" x2="388.99" y2="532.45" stroke="#4460b8" stroke-width="2.0" />
<line x1="382.79" y1="540.27" x2="388.99" y2="540.27" stroke="#4460b8" stroke-width="2.0" />
<polygon points="385.89,531.81 390.44,536.36 385.89,540.91 381.34,536.36" fill="#4460b8"/>
<polygon points="415.19,526.92 419.74,531.47 415.19,536.02 410.64,531.47" fill="#4460b8"/>
<polygon points="473.78,530.34 478.33,534.89 473.78,539.44 469.23,534.89" fill="#4460b8"/>
<polyline points="332.18,538.31 356.60,527.56 385.89,527.56 415.19,492.37 473.78,484.06" fill="none" stroke="#111" stroke-width="2.5" stroke-linejoin="round"/>
<rect x="328.68" y="534.81" width="7.00" height="7.00" fill="#111"/>
<rect x="353.10" y="524.06" width="7.00" height="7.00" fill="#111"/>
<line x1="385.89" y1="519.25" x2="385.89" y2="527.56" stroke="#111" stroke-width="2.0" />
<line x1="382.79" y1="519.25" x2="388.99" y2="519.25" stroke="#111" stroke-width="2.0" />
<rect x="382.39" y="524.06" width="7.00" height="7.00" fill="#111"/>
<line x1="415.19" y1="484.55" x2="415.19" y2="500.19" stroke="#111" stroke-width="2.0" />
<line x1="412.09" y1="484.55" x2="418.29" y2="484.55" stroke="#111" stroke-width="2.0" />
<line x1="412.09" y1="500.19" x2="418.29" y2="500.19" stroke="#111" stroke-width="2.0" />
<rect x="411.69" y="488.87" width="7.00" height="7.00" fill="#111"/>
<line x1="473.78" y1="477.21" x2="473.78" y2="490.90" stroke="#111" stroke-width="2.0" />
<line x1="470.68" y1="477.21" x2="476.88" y2="477.21" stroke="#111" stroke-width="2.0" />
<line x1="470.68" y1="490.90" x2="476.88" y2="490.90" stroke="#111" stroke-width="2.0" />
<rect x="470.28" y="480.56" width="7.00" height="7.00" fill="#111"/>
<polyline points="332.18,537.34 356.60,530.00 385.89,530.00 415.19,494.81 473.78,475.26" fill="none" stroke="#8052a8" stroke-width="2.5" stroke-linejoin="round"/>
<polygon points="332.18,541.36 336.41,534.12 327.96,534.12" fill="#8052a8"/>
<polygon points="356.60,534.03 360.82,526.78 352.37,526.78" fill="#8052a8"/>
<polygon points="385.89,534.03 390.12,526.78 381.67,526.78" fill="#8052a8"/>
<line x1="415.19" y1="488.94" x2="415.19" y2="500.68" stroke="#8052a8" stroke-width="2.0" />
<line x1="412.09" y1="488.94" x2="418.29" y2="488.94" stroke="#8052a8" stroke-width="2.0" />
<line x1="412.09" y1="500.68" x2="418.29" y2="500.68" stroke="#8052a8" stroke-width="2.0" />
<polygon points="415.19,498.84 419.41,491.59 410.96,491.59" fill="#8052a8"/>
<line x1="473.78" y1="457.17" x2="473.78" y2="494.32" stroke="#8052a8" stroke-width="2.0" />
<line x1="470.68" y1="457.17" x2="476.88" y2="457.17" stroke="#8052a8" stroke-width="2.0" />
<line x1="470.68" y1="494.32" x2="476.88" y2="494.32" stroke="#8052a8" stroke-width="2.0" />
<polygon points="473.78,479.28 478.01,472.04 469.55,472.04" fill="#8052a8"/>
<rect x="329.6" y="594.4" width="181.8" height="69.4" rx="13" ry="13" fill="#fff" stroke="#111" stroke-width="1.9"/>
<line x1="345.00" y1="606.90" x2="358.90" y2="606.90" stroke="#d4262f" stroke-width="2.5" />
<polygon points="351.70,603.11 355.68,609.94 347.72,609.94" fill="#d4262f"/>
<text x="364.60" y="609.80" font-size="11" text-anchor="start" font-weight="normal" font-style="normal" fill="#1a1a1a" >Leu16 into WT (leukemia)</text>
<line x1="345.00" y1="621.80" x2="358.90" y2="621.80" stroke="#4460b8" stroke-width="2.5" />
<polygon points="351.70,617.51 355.99,621.80 351.70,626.09 347.41,621.80" fill="#4460b8"/>
<text x="364.60" y="624.95" font-size="11" text-anchor="start" font-weight="normal" font-style="normal" fill="#1a1a1a" >Leu16 into WT</text>
<line x1="345.00" y1="636.70" x2="358.90" y2="636.70" stroke="#111" stroke-width="2.5" />
<rect x="348.40" y="633.40" width="6.60" height="6.60" fill="#111"/>
<text x="364.60" y="640.10" font-size="11" text-anchor="start" font-weight="normal" font-style="normal" fill="#1a1a1a" >Leu16 into hCD20 (leukemia)</text>
<line x1="345.00" y1="651.60" x2="358.90" y2="651.60" stroke="#8052a8" stroke-width="2.5" />
<polygon points="351.70,655.39 355.68,648.56 347.72,648.56" fill="#8052a8"/>
<text x="364.60" y="655.25" font-size="11" text-anchor="start" font-weight="normal" font-style="normal" fill="#1a1a1a" >Leu16 into hCD20</text>
</svg></body></html>
